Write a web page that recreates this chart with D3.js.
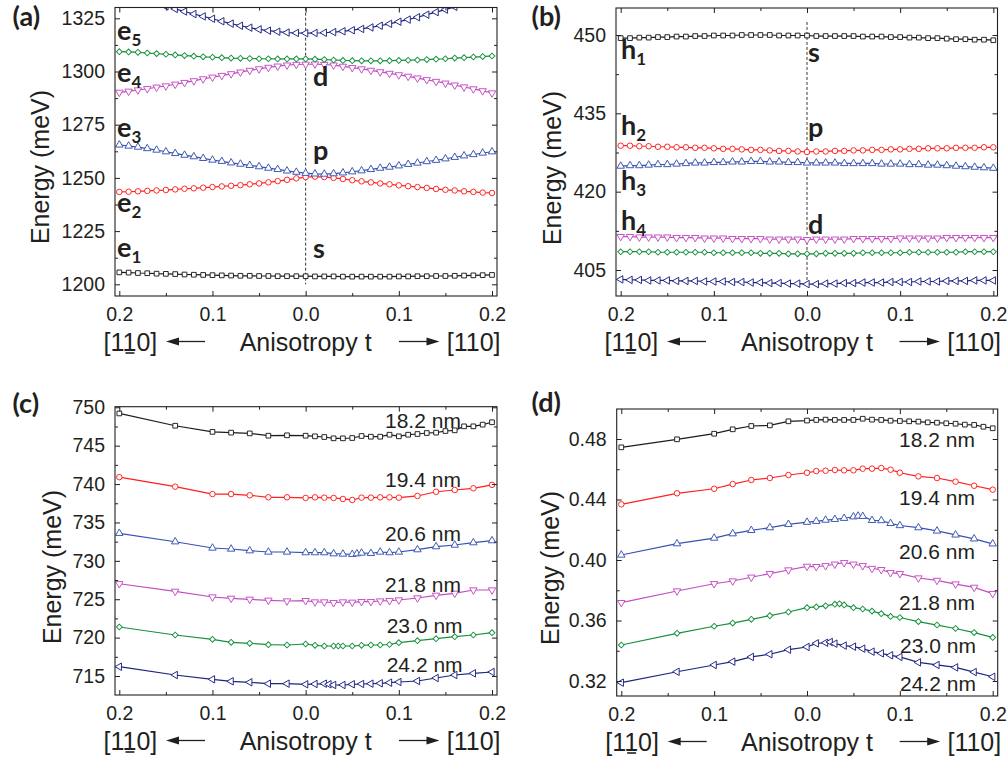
<!DOCTYPE html>
<html>
<head>
<meta charset="utf-8">
<script src="https://cdn.jsdelivr.net/npm/d3@7"></script>
<style>
  html, body { margin: 0; padding: 0; background: #fff; }
  svg { display: block; }
</style>
</head>
<body>
<svg id="fig" width="1008" height="759"></svg>
<script>
// ---------- anisotropy grids ----------
const tFine = [-0.2,-0.19,-0.18,-0.17,-0.16,-0.15,-0.14,-0.13,-0.12,-0.11,-0.1,-0.09,-0.08,-0.07,-0.06,-0.05,-0.04,-0.03,-0.02,-0.01,0,
  0.01,0.02,0.03,0.04,0.05,0.06,0.07,0.08,0.09,0.1,0.11,0.12,0.13,0.14,0.15,0.16,0.17,0.18,0.19,0.2];
const tSparse = [-0.2,-0.14,-0.1,-0.08,-0.06,-0.04,-0.02,0,0.01,0.02,0.03,0.04,0.05,0.06,0.07,0.08,0.09,0.1,0.12,0.14,0.16,0.18,0.2];
const tDense = [-0.2,-0.14,-0.1,-0.08,-0.06,-0.04,-0.02,0,0.01,0.02,0.03,0.04,0.05,0.06,0.07,0.08,0.09,0.1,0.11,0.12,0.13,0.14,0.15,0.16,0.17,0.18,0.19,0.2];
const tPeak025 = [-0.2,-0.14,-0.1,-0.08,-0.06,-0.04,-0.02,0,0.01,0.02,0.025,0.03,0.04,0.05,0.06,0.07,0.08,0.09,0.1,0.12,0.14,0.16,0.18,0.2];
const tPeak035 = [-0.2,-0.14,-0.1,-0.08,-0.06,-0.04,-0.02,0,0.01,0.02,0.03,0.035,0.04,0.05,0.06,0.07,0.08,0.09,0.1,0.12,0.14,0.16,0.18,0.2];
const tPeak055 = [-0.2,-0.14,-0.1,-0.08,-0.06,-0.04,-0.02,0,0.01,0.02,0.03,0.04,0.05,0.055,0.06,0.07,0.08,0.09,0.1,0.12,0.14,0.16,0.18,0.2];

// ---------- (a) electron levels, meV ----------
const elecE1 = [1205.6,1205.5,1205.3,1205.2,1205.0,1204.9,1204.8,1204.6,1204.5,1204.4,1204.3,1204.2,1204.1,1204.0,1204.0,1203.9,1203.9,1203.8,1203.8,1203.8,1203.8,
  1203.7,1203.7,1203.7,1203.6,1203.6,1203.6,1203.6,1203.6,1203.6,1203.7,1203.7,1203.8,1203.8,1203.9,1203.9,1204.0,1204.1,1204.2,1204.3,1204.4];
const elecE2 = [1243.4,1243.5,1243.7,1243.9,1244.1,1244.3,1244.6,1244.9,1245.1,1245.4,1245.7,1246.0,1246.3,1246.6,1247.0,1247.4,1247.9,1248.5,1249.1,1249.8,1250.4,
  1250.6,1250.4,1250.0,1249.5,1248.9,1248.4,1247.9,1247.4,1247.0,1246.5,1246.1,1245.7,1245.3,1244.8,1244.4,1244.1,1243.7,1243.4,1243.1,1242.9];
const elecE3 = [1265.5,1265.0,1264.5,1263.8,1263.1,1262.3,1261.5,1260.7,1260.0,1259.2,1258.4,1257.8,1257.1,1256.5,1255.9,1255.3,1254.6,1254.0,1253.3,1252.7,1252.2,
  1251.9,1251.8,1252.0,1252.4,1252.9,1253.4,1254.0,1254.6,1255.1,1255.7,1256.4,1257.0,1257.7,1258.3,1259.0,1259.7,1260.4,1261.0,1261.7,1262.3];
const elecE4 = [1290.2,1290.7,1291.3,1291.9,1292.6,1293.2,1294.0,1294.8,1295.6,1296.5,1297.3,1298.1,1298.9,1299.7,1300.5,1301.2,1301.9,1302.5,1303.0,1303.3,1303.4,
  1303.5,1303.3,1303.0,1302.4,1301.8,1301.2,1300.5,1299.8,1299.1,1298.4,1297.7,1296.9,1296.1,1295.3,1294.5,1293.6,1292.7,1291.8,1290.9,1289.9];
const elecE5 = [1309.3,1309.2,1309.0,1308.7,1308.4,1308.1,1307.8,1307.5,1307.2,1306.9,1306.7,1306.5,1306.3,1306.2,1306.1,1306.0,1306.0,1305.9,1305.9,1305.9,1305.9,
  1305.8,1305.6,1305.4,1305.2,1305.1,1305.0,1305.0,1305.0,1305.1,1305.2,1305.3,1305.4,1305.6,1305.8,1306.0,1306.3,1306.5,1306.8,1307.0,1307.3];
const elecE6 = [1337.1,1335.8,1334.5,1333.2,1331.9,1330.6,1329.4,1328.2,1327.0,1325.9,1324.8,1323.6,1322.5,1321.5,1320.6,1319.8,1319.2,1318.7,1318.3,1318.1,1318.0,
  1318.1,1318.2,1318.5,1318.9,1319.4,1320.0,1320.7,1321.5,1322.4,1323.4,1324.4,1325.5,1326.7,1327.9,1329.1,1330.4,1331.7,1333.0,1334.3,1335.6];

// ---------- (b) hole levels, meV ----------
const holeH1 = [449.4,449.4,449.5,449.5,449.6,449.6,449.7,449.7,449.8,449.8,449.9,449.9,449.9,450.0,450.0,450.0,450.0,449.9,449.9,449.9,449.9,
  449.8,449.8,449.8,449.8,449.8,449.7,449.7,449.7,449.6,449.6,449.5,449.5,449.4,449.4,449.3,449.2,449.2,449.1,449.1,449.0];
const holeH2 = [428.8,428.8,428.7,428.7,428.6,428.6,428.5,428.5,428.4,428.4,428.3,428.2,428.2,428.1,428.0,428.0,427.9,427.8,427.8,427.7,427.6,
  427.7,427.7,427.8,427.8,427.9,427.9,428.0,428.0,428.1,428.1,428.2,428.2,428.3,428.3,428.3,428.4,428.4,428.4,428.5,428.5];
const holeH3 = [424.9,425.0,425.0,425.1,425.2,425.2,425.3,425.4,425.5,425.5,425.6,425.6,425.7,425.7,425.8,425.8,425.7,425.7,425.6,425.6,425.5,
  425.5,425.5,425.5,425.4,425.4,425.4,425.4,425.3,425.3,425.3,425.2,425.2,425.1,425.1,425.0,424.9,424.8,424.7,424.6,424.5];
const holeH4 = [411.4,411.4,411.3,411.3,411.3,411.3,411.2,411.2,411.2,411.1,411.1,411.1,411.0,411.0,411.0,411.0,410.9,410.9,410.9,410.9,410.8,
  410.9,410.9,410.9,410.9,411.0,411.0,411.0,411.0,411.0,411.1,411.1,411.1,411.1,411.1,411.2,411.2,411.2,411.2,411.2,411.2];
const holeH5 = [408.5,408.5,408.5,408.5,408.4,408.4,408.4,408.4,408.4,408.4,408.3,408.3,408.3,408.3,408.3,408.2,408.2,408.2,408.1,408.1,408.1,
  408.1,408.2,408.2,408.2,408.2,408.3,408.3,408.3,408.3,408.3,408.4,408.4,408.4,408.4,408.4,408.4,408.5,408.5,408.5,408.5];
const holeH6 = [403.2,403.1,403.1,403.0,403.0,403.0,402.9,402.9,402.9,402.8,402.8,402.8,402.7,402.7,402.6,402.6,402.5,402.5,402.4,402.4,402.3,
  402.3,402.4,402.4,402.5,402.5,402.6,402.6,402.6,402.7,402.7,402.7,402.8,402.8,402.8,402.9,402.9,402.9,403.0,403.0,403.0];

// ---------- (c) exciton energy vs. dot size, meV ----------
const sizeLabels = ["18.2 nm","19.4 nm","20.6 nm","21.8 nm","23.0 nm","24.2 nm"];
const exc182 = [749.2,747.6,746.8,746.7,746.6,746.3,746.35,746.3,746.22,746.13,745.96,745.96,746.0,746.26,746.17,746.17,746.43,746.22,746.43,746.52,746.65,746.7,746.91,747.0,747.52,747.52,747.74,748.05];
const exc194 = [740.9,739.66,738.7,738.7,738.54,738.28,738.28,738.2,738.27,738.23,738.19,738.06,737.93,738.23,738.23,738.27,738.27,738.23,738.45,739.0,739.23,739.45,739.9];
const exc206 = [733.59,732.49,731.67,731.54,731.32,731.15,731.15,731.07,731.07,731.07,730.93,730.89,730.85,730.93,731.02,730.98,731.15,731.07,731.15,731.46,731.85,732.06,732.37,732.63];
const exc218 = [727.02,726.03,725.29,725.12,724.99,724.86,724.77,724.81,724.64,724.64,724.55,724.64,724.6,724.68,724.68,724.77,724.81,724.9,725.16,725.51,725.77,726.2,726.2];
const exc230 = [721.38,720.34,719.78,719.39,719.26,719.08,719.04,719.17,719.0,718.91,718.91,718.91,718.91,718.91,719.0,719.04,719.04,719.1,719.34,719.6,719.86,720.12,720.34,720.64];
const exc242 = [716.21,715.13,714.57,714.31,714.18,714.0,714.0,713.92,713.96,714.0,713.92,713.83,713.83,713.92,713.96,714.0,714.05,714.13,714.22,714.35,714.74,715.13,715.35,715.52];

// ---------- (d) fine-structure splitting vs. dot size, meV ----------
const fss182 = [0.4745,0.4798,0.4835,0.4864,0.4886,0.4890,0.4917,0.4922,0.4926,0.4928,0.4926,0.4926,0.4926,0.4934,0.4928,0.4926,0.4921,0.4919,0.4917,0.4915,0.4910,0.4908,0.4904,0.4901,0.4895,0.4893,0.4881,0.4871];
const fss194 = [0.4368,0.4441,0.4471,0.4502,0.4529,0.4542,0.4562,0.4577,0.4588,0.4590,0.4595,0.4593,0.4593,0.4604,0.4604,0.4608,0.4597,0.4577,0.4553,0.4542,0.4518,0.4491,0.4465];
const fss206 = [0.4033,0.4108,0.4145,0.4174,0.4196,0.4214,0.4236,0.4250,0.4256,0.4264,0.4269,0.4276,0.4286,0.4291,0.4289,0.4262,0.4261,0.4242,0.4228,0.4214,0.4192,0.4166,0.4140,0.4107];
const fss218 = [0.3718,0.3795,0.3843,0.3861,0.3886,0.3910,0.3934,0.3958,0.3956,0.3962,0.3972,0.3982,0.3972,0.3962,0.3944,0.3936,0.3916,0.3910,0.3881,0.3865,0.3841,0.3819,0.3778];
const fss230 = [0.3438,0.3515,0.3562,0.3583,0.3608,0.3632,0.3656,0.3685,0.3690,0.3697,0.3708,0.3710,0.3703,0.3685,0.3676,0.3662,0.3645,0.3627,0.3620,0.3593,0.3570,0.3547,0.3520,0.3488];
const fss242 = [0.3189,0.3261,0.3306,0.3328,0.3359,0.3377,0.3407,0.3425,0.3449,0.3453,0.3458,0.3447,0.3434,0.3427,0.3414,0.3394,0.3383,0.3370,0.3359,0.3323,0.3306,0.3290,0.3259,0.3228];

// ---------- axis ticks ----------
const xMajor = [-0.2,-0.1,0,0.1,0.2];
const xMinor = [-0.15,-0.05,0.05,0.15];
const yMajorA = [1200,1225,1250,1275,1300,1325], yMinorA = [1212.5,1237.5,1262.5,1287.5,1312.5];
const yMajorB = [405,420,435,450], yMinorB = [412.5,427.5,442.5];
const yMajorC = [715,720,725,730,735,740,745,750], yMinorC = [717.5,722.5,727.5,732.5,737.5,742.5,747.5];
const yMajorD = [0.32,0.36,0.40,0.44,0.48], yMinorD = [0.34,0.38,0.42,0.46];

// ---------- styling ----------
const FONT = "'Liberation Sans', Arial, Helvetica, sans-serif";
const BOLD = "Lato, 'Open Sans', sans-serif";
const INK = "#231f20";
const TICK_FONT = 19.5;
const C = { black: "#1c1c1c", red: "#ff1f1f", blue: "#3752b0", magenta: "#c24cc0", green: "#16903e", navy: "#1c2380" };
const MARK = {
  square:  { type: d3.symbolSquare,   size: 22, rot: 0 },
  circle:  { type: d3.symbolCircle,   size: 24, rot: 0 },
  triUp:   { type: d3.symbolTriangle, size: 24, rot: 0 },
  triDown: { type: d3.symbolTriangle, size: 24, rot: 180 },
  diamond: { type: d3.symbolSquare,   size: 17, rot: 45 },
  triLeft: { type: d3.symbolTriangle, size: 24, rot: -90 }
};

const svg = d3.select("#fig");
const defs = svg.append("defs");

function panel(o) {
  const x = d3.scaleLinear().domain([-0.2, 0.2]).range(o.xr);
  const y = d3.scaleLinear().domain(o.yd).range(o.yr);
  const f = o.frame;
  defs.append("clipPath").attr("id", "clip-" + o.id)
    .append("rect").attr("x", f.l).attr("y", f.t).attr("width", f.r - f.l).attr("height", f.b - f.t);
  const g = svg.append("g");

  if (o.guide) {
    g.append("line")
      .attr("x1", x(0)).attr("x2", x(0))
      .attr("y1", y(o.guide[0])).attr("y2", y(o.guide[1]))
      .attr("stroke", "#222").attr("stroke-width", 0.9).attr("stroke-dasharray", "3,2");
  }

  const plot = g.append("g").attr("clip-path", `url(#clip-${o.id})`);
  const line = d3.line().x(d => x(d[0])).y(d => y(d[1]));
  o.series.forEach(s => {
    const pts = s.t.map((t, i) => [t, s.v[i]]);
    plot.append("path").datum(pts)
      .attr("fill", "none").attr("stroke", s.color).attr("stroke-width", 1.2).attr("d", line);
    const m = MARK[s.mark];
    plot.append("g").selectAll("path").data(pts).join("path")
      .attr("transform", d => `translate(${x(d[0])},${y(d[1])}) rotate(${m.rot})`)
      .attr("d", d3.symbol().type(m.type).size(m.size))
      .attr("fill", "#fff").attr("stroke", s.color).attr("stroke-width", 0.95);
  });

  // inward ticks on all four sides, labels on left and bottom only
  const style = sel => {
    sel.select(".domain").remove();
    sel.attr("color", INK).attr("font-family", FONT).attr("font-size", TICK_FONT);
    sel.selectAll(".tick line").attr("stroke-width", 1);
  };
  g.append("g").attr("transform", `translate(${f.l},0)`)
    .call(d3.axisLeft(y).tickValues(o.yMajor).tickSizeInner(-5).tickSizeOuter(0).tickPadding(10).tickFormat(o.yFmt)).call(style);
  g.append("g").attr("transform", `translate(${f.l},0)`)
    .call(d3.axisLeft(y).tickValues(o.yMinor).tickSizeInner(-3).tickSizeOuter(0).tickFormat("")).call(style);
  g.append("g").attr("transform", `translate(${f.r},0)`)
    .call(d3.axisRight(y).tickValues(o.yMajor).tickSizeInner(-5).tickSizeOuter(0).tickFormat("")).call(style);
  g.append("g").attr("transform", `translate(${f.r},0)`)
    .call(d3.axisRight(y).tickValues(o.yMinor).tickSizeInner(-3).tickSizeOuter(0).tickFormat("")).call(style);
  const bx = g.append("g").attr("transform", `translate(0,${f.b})`)
    .call(d3.axisBottom(x).tickValues(xMajor).tickSizeInner(-5).tickSizeOuter(0).tickFormat(d => Math.abs(d).toFixed(1))).call(style);
  bx.selectAll("text").attr("y", 25).attr("dy", 0);
  g.append("g").attr("transform", `translate(0,${f.b})`)
    .call(d3.axisBottom(x).tickValues(xMinor).tickSizeInner(-3).tickSizeOuter(0).tickFormat("")).call(style);
  g.append("g").attr("transform", `translate(0,${f.t})`)
    .call(d3.axisTop(x).tickValues(xMajor).tickSizeInner(-5).tickSizeOuter(0).tickFormat("")).call(style);
  g.append("g").attr("transform", `translate(0,${f.t})`)
    .call(d3.axisTop(x).tickValues(xMinor).tickSizeInner(-3).tickSizeOuter(0).tickFormat("")).call(style);

  g.append("rect").attr("x", f.l).attr("y", f.t).attr("width", f.r - f.l).attr("height", f.b - f.t)
    .attr("fill", "none").attr("stroke", INK).attr("stroke-width", 1.1);

  // y title
  g.append("text")
    .attr("transform", `translate(${o.yTitle[0]},${o.yTitle[1]}) rotate(-90)`)
    .attr("text-anchor", "middle").attr("font-family", FONT).attr("font-size", 25).attr("fill", INK)
    .text("Energy (meV)");

  // panel tag
  g.append("text").attr("x", o.tag[0]).attr("y", o.tag[1])
    .attr("font-family", BOLD).attr("font-weight", 700).attr("font-size", 27).attr("fill", INK)
    .text(o.tagText);

  // bottom caption row: [1-10] <-  Anisotropy t  -> [110]
  const base = f.b + 55;
  const cap = g.append("g").attr("font-family", FONT).attr("font-size", 25).attr("fill", INK);
  const left = cap.append("text").attr("x", f.l - 11.5).attr("y", base).text("[110]");
  const n = left.node();
  const s0 = n.getStartPositionOfChar(2), s1 = n.getEndPositionOfChar(2);
  cap.append("line").attr("x1", s0.x + 3).attr("x2", s1.x - 2).attr("y1", base + 2).attr("y2", base + 2)
    .attr("stroke", INK).attr("stroke-width", 1.6);
  cap.append("text").attr("x", x(0)).attr("y", base).attr("text-anchor", "middle").text("Anisotropy t");
  cap.append("text").attr("x", f.r + 3.5).attr("y", base).attr("text-anchor", "end").text("[110]");
  const ay = base - 9.5;
  const arrow = (xTail, xTip) => {
    const dir = Math.sign(xTip - xTail), head = 13;
    cap.append("line").attr("x1", xTail).attr("x2", xTip - dir * head + dir).attr("y1", ay).attr("y2", ay)
      .attr("stroke", INK).attr("stroke-width", 1.3);
    cap.append("path")
      .attr("d", `M${xTip},${ay}L${xTip - dir * head},${ay - 4}L${xTip - dir * head},${ay + 4}Z`)
      .attr("fill", INK);
  };
  arrow(f.l + 90, f.l + 51);
  arrow(f.r - 98, f.r - 57.5);

  return { x, y, g };
}

function subLabel(g, xPos, yPos, main, sub) {
  const t = g.append("text").attr("x", xPos).attr("y", yPos)
    .attr("font-family", BOLD).attr("font-weight", 700).attr("font-size", 27).attr("fill", INK);
  t.append("tspan").text(main);
  if (sub) t.append("tspan").attr("dy", 6).attr("font-size", 17).text(sub);
}

// ---------- (a) ----------
const A = panel({
  id: "a", frame: { l: 115, r: 497, t: 7.5, b: 296 }, xr: [119.3, 492],
  yd: [1200, 1325], yr: [284.3, 18.3], yMajor: yMajorA, yMinor: yMinorA, yFmt: d3.format("d"),
  guide: [1330, 1200], yTitle: [49, 167], tag: [12.5, 26], tagText: "(a)",
  series: [
    { t: tFine, v: elecE1, color: C.black, mark: "square" },
    { t: tFine, v: elecE2, color: C.red, mark: "circle" },
    { t: tFine, v: elecE3, color: C.blue, mark: "triUp" },
    { t: tFine, v: elecE4, color: C.magenta, mark: "triDown" },
    { t: tFine, v: elecE5, color: C.green, mark: "diamond" },
    { t: tFine, v: elecE6, color: C.navy, mark: "triLeft" }
  ]
});
subLabel(A.g, 117, 40, "e", "5");
subLabel(A.g, 117, 82, "e", "4");
subLabel(A.g, 117, 137, "e", "3");
subLabel(A.g, 117, 212, "e", "2");
subLabel(A.g, 117, 257, "e", "1");
subLabel(A.g, 313, 86, "d");
subLabel(A.g, 313, 160, "p");
subLabel(A.g, 313, 258, "s");

// ---------- (b) ----------
const B = panel({
  id: "b", frame: { l: 616, r: 997.5, t: 8, b: 296 }, xr: [620.7, 993.3],
  yd: [405, 450], yr: [270, 35], yMajor: yMajorB, yMinor: yMinorB, yFmt: d3.format("d"),
  guide: [452.5, 402], yTitle: [561, 168], tag: [531.5, 26], tagText: "(b)",
  series: [
    { t: tFine, v: holeH1, color: C.black, mark: "square" },
    { t: tFine, v: holeH2, color: C.red, mark: "circle" },
    { t: tFine, v: holeH3, color: C.blue, mark: "triUp" },
    { t: tFine, v: holeH4, color: C.magenta, mark: "triDown" },
    { t: tFine, v: holeH5, color: C.green, mark: "diamond" },
    { t: tFine, v: holeH6, color: C.navy, mark: "triLeft" }
  ]
});
subLabel(B.g, 621, 58.5, "h", "1");
subLabel(B.g, 621, 135, "h", "2");
subLabel(B.g, 621, 190, "h", "3");
subLabel(B.g, 621, 230, "h", "4");
subLabel(B.g, 808, 62, "s");
subLabel(B.g, 808, 137, "p");
subLabel(B.g, 808, 233.5, "d");

// ---------- (c) ----------
const Cp = panel({
  id: "c", frame: { l: 115, r: 497, t: 406.7, b: 695 }, xr: [119.3, 492],
  yd: [715, 750], yr: [676, 407.3], yMajor: yMajorC, yMinor: yMinorC, yFmt: d3.format("d"),
  guide: null, yTitle: [61, 567], tag: [12.5, 412.5], tagText: "(c)",
  series: [
    { t: tDense, v: exc182, color: C.black, mark: "square" },
    { t: tSparse, v: exc194, color: C.red, mark: "circle" },
    { t: tPeak055, v: exc206, color: C.blue, mark: "triUp" },
    { t: tSparse, v: exc218, color: C.magenta, mark: "triDown" },
    { t: tPeak035, v: exc230, color: C.green, mark: "diamond" },
    { t: tPeak025, v: exc242, color: C.navy, mark: "triLeft" }
  ]
});
const sizeYc = [428.3, 486.7, 541, 591.7, 633.3, 671.7];
const sizeXc = [385, 385, 385, 385, 386.7, 386.7];
Cp.g.append("g").attr("font-family", FONT).attr("font-size", 21).attr("fill", INK)
  .selectAll("text").data(sizeLabels).join("text")
  .attr("x", (d, i) => sizeXc[i]).attr("y", (d, i) => sizeYc[i]).text(d => d);

// ---------- (d) ----------
const D = panel({
  id: "d", frame: { l: 616.7, r: 997.7, t: 409, b: 696 }, xr: [621.3, 992.7],
  yd: [0.32, 0.48], yr: [681, 439], yMajor: yMajorD, yMinor: yMinorD, yFmt: d3.format(".2f"),
  guide: null, yTitle: [559, 568], tag: [531.5, 411.5], tagText: "(d)",
  series: [
    { t: tDense, v: fss182, color: C.black, mark: "square" },
    { t: tSparse, v: fss194, color: C.red, mark: "circle" },
    { t: tPeak055, v: fss206, color: C.blue, mark: "triUp" },
    { t: tSparse, v: fss218, color: C.magenta, mark: "triDown" },
    { t: tPeak035, v: fss230, color: C.green, mark: "diamond" },
    { t: tPeak025, v: fss242, color: C.navy, mark: "triLeft" }
  ]
});
const sizeYd = [446.7, 505, 559.3, 610, 652.7, 690.7];
const sizeXd = [899, 899, 899, 899, 900, 900];
D.g.append("g").attr("font-family", FONT).attr("font-size", 21).attr("fill", INK)
  .selectAll("text").data(sizeLabels).join("text")
  .attr("x", (d, i) => sizeXd[i]).attr("y", (d, i) => sizeYd[i]).text(d => d);
</script>
</body>
</html>
